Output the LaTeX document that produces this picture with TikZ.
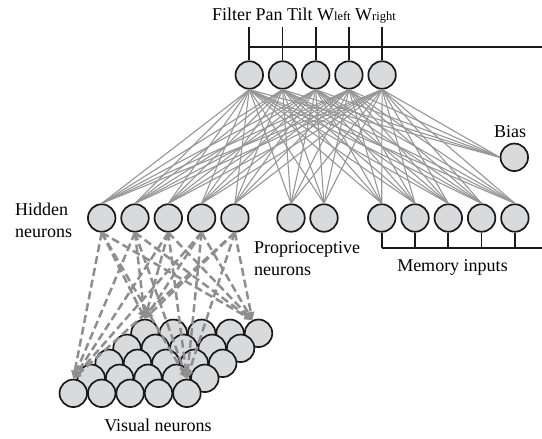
\documentclass[tikz,border=0pt]{standalone}
\usepackage{fontspec}
\setmainfont{Liberation Serif}
\usetikzlibrary{arrows.meta,positioning}
\definecolor{cellfill}{RGB}{217,218,220}
\definecolor{linkgray}{RGB}{150,150,150}
\newcommand{\wsub}[1]{{\fontsize{12.5}{12.5}\selectfont #1}}

\begin{document}
\begin{tikzpicture}[x=1pt,y=-1pt,
    neuron/.style={circle,draw=black!90,fill=cellfill,line width=1.7pt,
                   minimum size=27.5pt,inner sep=0pt},
    link/.style={draw=linkgray,line width=1.1pt},
    vlink/.style={draw=linkgray!95!black,line width=2.5pt,dash pattern=on 8pt off 4pt,
                  -{Triangle[length=8pt,width=7pt]}},
    bus/.style={draw=black!90,line width=1.7pt},
    lbl/.style={font=\fontsize{18}{22}\selectfont,inner sep=0pt}]
\useasboundingbox (0,0) rectangle (542,439);

% output neurons
\foreach \i in {1,...,5}
    \node[neuron] (o\i) at ({249.3+33.2*(\i-1)},75) {};
% hidden, proprioceptive, memory and bias
\foreach \i in {1,...,5}
    \node[neuron] (h\i) at ({101.7+33.3*(\i-1)},218) {};
\node[neuron] (p1) at (291,218) {};
\node[neuron] (p2) at (324,218) {};
\foreach \i in {1,...,5}
    \node[neuron] (m\i) at ({381.7+33.3*(\i-1)},218) {};
\node[neuron] (b) at (514.3,157.3) {};
% visual neurons, back row first
\foreach \r in {5,4,...,1}
    \foreach \c in {1,...,5}
        \node[neuron] (v\r\c) at ({73.3+28.4*(\c-1)+17.9*(\r-1)},{393.3-15*(\r-1)}) {};

% full connections from the outputs
\foreach \s in {1,...,5} {
    \foreach \t in {h1,h2,h3,h4,h5,p1,p2,m1,m2,m3,m4,m5}
        \draw[link] (o\s.south) -- (\t.north);
    \draw[link] (o\s.south) -- (b.west);
}
% hidden to the corners of the visual field
\foreach \h in {1,...,5}
    \foreach \t in {v11.north,v15.north,v51.north,v55.115}
        \draw[vlink] (h\h.south) -- (\t);

% buses
\coordinate (topR) at (542,46.7);
\draw[bus] (o1.north |- topR) -- (topR);
\foreach \i in {1,...,5}
    \draw[bus] (o\i.north) -- ++(0,-33.5);
\coordinate (memR) at (542,248);
\draw[bus] (m1.south |- memR) -- (memR);
\foreach \i in {1,...,5}
    \draw[bus] (m\i.south) -- (m\i.south |- memR);

% labels
\node[lbl,anchor=base] (outlbl) at (304,20.7) {Filter Pan Tilt W\wsub{left} W\wsub{right}};
\node[lbl,anchor=base] (biaslbl) at (510,137.3) {Bias};
\node[lbl,anchor=north west,align=left] (hidlbl) at (15,202.5) {Hidden\\neurons};
\node[lbl,anchor=north west,align=left] (prolbl) at (254,241.5) {Proprioceptive\\neurons};
\node[lbl,anchor=base] (memlbl) at (452.5,271.7) {Memory inputs};
\node[lbl,anchor=base] (vislbl) at (158,431.7) {Visual neurons};
\end{tikzpicture}
\end{document}
